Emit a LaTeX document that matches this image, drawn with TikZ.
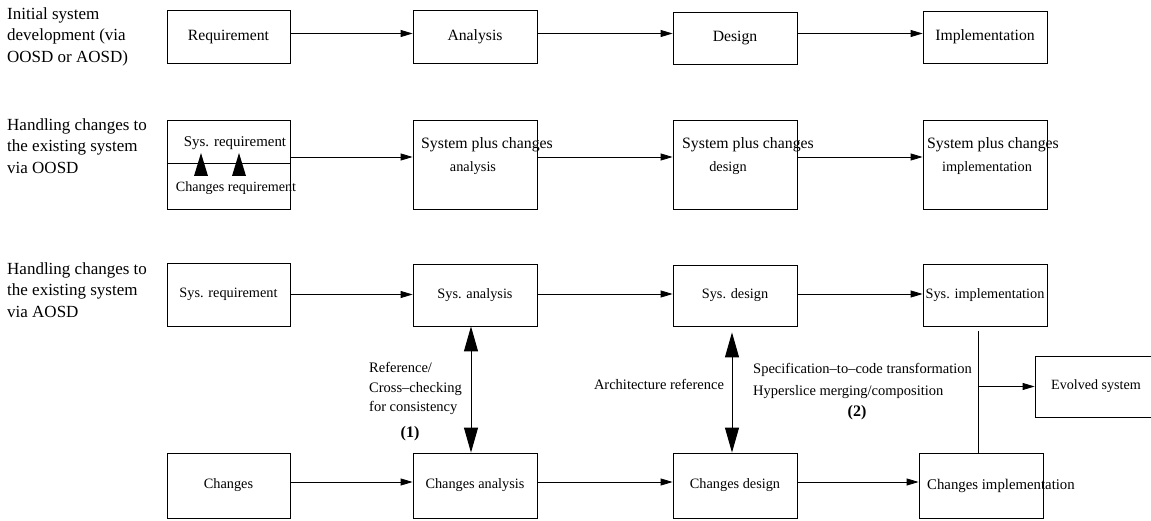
\documentclass[tikz,border=0pt]{standalone}
\usepackage{fontspec}
\setmainfont{Liberation Serif}
\usetikzlibrary{arrows.meta}
\newcommand\fsz[2]{\fontsize{#1}{#2}\selectfont}

\begin{document}
\begin{tikzpicture}[x=1pt,y=-1pt,
  box/.style={draw, line width=0.8pt, inner sep=0pt, minimum width=124pt},
  flow/.style={line width=0.8pt, -{Triangle[length=12pt,width=7pt]}},
  link/.style={line width=1pt, {Triangle[length=25pt,width=14pt]}-{Triangle[length=25pt,width=14pt]}},
  plain/.style={line width=1pt},
  lbl/.style={inner sep=0pt, font=\fsz{14.5}{19.5}},
  bignum/.style={inner sep=0pt, font=\bfseries\fsz{16}{18}},
  side/.style={inner sep=0pt, anchor=west, align=left, font=\fsz{17}{21.5}},
]
\useasboundingbox (0,0) rectangle (1151,521);
\clip (0,0) rectangle (1151,521);

% row labels
\node[side] (s1) at (7,36.5) {Initial system\\development (via\\OOSD or AOSD)};
\node[side] (s2) at (7,146) {Handling changes to\\the existing system\\via OOSD};
\node[side] (s3) at (7,290) {Handling changes to\\the existing system\\via AOSD};

% initial development
\node[box, minimum width=123pt, minimum height=53pt, font=\fsz{15.7}{18}] (r1a) at (228.5,36.5) {Requirement};
\node[box, minimum height=53pt, font=\fsz{15.7}{18}] (r1b) at (475,36.5) {Analysis};
\node[box, minimum height=52pt, font=\fsz{15.7}{18}] (r1c) at (735,38) {Design};
\node[box, minimum height=52pt, font=\fsz{15.7}{18}] (r1d) at (985,37) {Implementation};

\draw[flow] ([yshift=3pt]r1a.east) -- ([yshift=3pt]r1a.east -| r1b.west);
\draw[flow] ([yshift=3pt]r1b.east) -- ([yshift=3pt]r1b.east -| r1c.west);
\draw[flow] ([yshift=4.5pt]r1c.east) -- ([yshift=4.5pt]r1c.east -| r1d.west);

% changes via OOSD
\node[box, minimum width=123pt, minimum height=89pt] (r2a) at (228.5,164.5) {};
\node[box, minimum height=89pt] (r2b) at (475,164.5) {};
\node[box, minimum height=89pt] (r2c) at (735,164.5) {};
\node[box, minimum height=89pt] (r2d) at (985,164.5) {};

\draw[line width=0.8pt] ([yshift=1.5pt]r2a.west) -- ([yshift=1.5pt]r2a.east);
\fill (194,176) -- (208,176) -- (201,153) -- cycle;
\fill (232,176) -- (246,176) -- (239,153) -- cycle;
\node[inner sep=0pt, font=\fsz{14.9}{18}] (t2a1) at (235,143) {Sys. requirement};
\node[inner sep=0pt, font=\fsz{14.1}{17}] (t2a2) at (236,188) {Changes requirement};

\node[inner sep=0pt, anchor=west, font=\fsz{15.8}{18}] (t2b1) at (421,145) {System plus changes};
\node[inner sep=0pt, font=\fsz{14.3}{17}] (t2b2) at (473,168) {analysis};
\node[inner sep=0pt, anchor=west, font=\fsz{15.8}{18}] (t2c1) at (682,145) {System plus changes};
\node[inner sep=0pt, font=\fsz{14.3}{17}] (t2c2) at (728,168) {design};
\node[inner sep=0pt, anchor=west, font=\fsz{15.8}{18}] (t2d1) at (927,145) {System plus changes};
\node[inner sep=0pt, font=\fsz{14.3}{17}] (t2d2) at (987,168) {implementation};

\draw[flow] ([yshift=7.5pt]r2a.east) -- ([yshift=7.5pt]r2a.east -| r2b.west);
\draw[flow] ([yshift=7.5pt]r2b.east) -- ([yshift=7.5pt]r2b.east -| r2c.west);
\draw[flow] ([yshift=7.5pt]r2c.east) -- ([yshift=7.5pt]r2c.east -| r2d.west);

% changes via AOSD: system track
\node[box, minimum width=123pt, minimum height=63pt, font=\fsz{14.3}{17}] (r3a) at (228.5,294.5) {Sys. requirement};
\node[box, minimum height=62pt, font=\fsz{14.3}{17}] (r3b) at (475,295) {Sys. analysis};
\node[box, minimum height=61pt, font=\fsz{14.3}{17}] (r3c) at (735,295.5) {Sys. design};
\node[box, minimum height=62pt, font=\fsz{14.3}{17}] (r3d) at (985,295) {Sys. implementation};

\draw[flow] (r3a.east) -- (r3a.east -| r3b.west);
\draw[flow] ([yshift=1pt]r3b.east) -- ([yshift=1pt]r3b.east -| r3c.west);
\draw[flow] ([yshift=1.5pt]r3c.east) -- ([yshift=1.5pt]r3c.east -| r3d.west);

% changes via AOSD: changes track
\node[box, minimum width=123pt, minimum height=65pt, font=\fsz{14.3}{17}] (r4a) at (228.5,485.5) {Changes};
\node[box, minimum height=65pt, font=\fsz{14.3}{17}] (r4b) at (475,485.5) {Changes analysis};
\node[box, minimum height=65pt, font=\fsz{14.3}{17}] (r4c) at (735,485.5) {Changes design};
\node[box, minimum height=65pt] (r4d) at (981,485.5) {};
\node[inner sep=0pt, anchor=west, font=\fsz{14.8}{17}] (t4d) at (927,486) {Changes implementation};

\draw[flow] ([yshift=3.5pt]r4a.east) -- ([yshift=3.5pt]r4a.east -| r4b.west);
\draw[flow] ([yshift=3.5pt]r4b.east) -- ([yshift=3.5pt]r4b.east -| r4c.west);
\draw[flow] ([yshift=3.5pt]r4c.east) -- ([yshift=3.5pt]r4c.east -| r4d.west);

% cross links between the two tracks
\draw[link] ([xshift=-4pt]r3b.south) -- ([xshift=-4pt]r4b.north);
\draw[link] ([xshift=-3pt,yshift=-6pt]r3c.south) -- ([xshift=-3pt]r4c.north);

\node[lbl, anchor=west, align=left] (l1) at (369,388.5) {Reference/\\Cross--checking\\for consistency};
\node[bignum] (n1) at (410,434) {(1)};
\node[lbl] (l2) at (659,384) {Architecture reference};

% merging into the evolved system
\node[box, minimum width=122pt, minimum height=61pt, font=\fsz{14.1}{17}] (ev) at (1096,386.5) {Evolved system};
\coordinate (jt) at ([xshift=-7pt,yshift=-5pt]r3d.south);
\draw[plain] (jt) -- (jt |- r4d.north);
\draw[flow] (jt |- ev.west) -- (ev.west);

\node[lbl, anchor=west] (l3) at (753,370) {Specification--to--code transformation};
\node[lbl, anchor=west] (l4) at (753,392) {Hyperslice merging/composition};
\node[bignum] (n2) at (857,413) {(2)};
\end{tikzpicture}
\end{document}
